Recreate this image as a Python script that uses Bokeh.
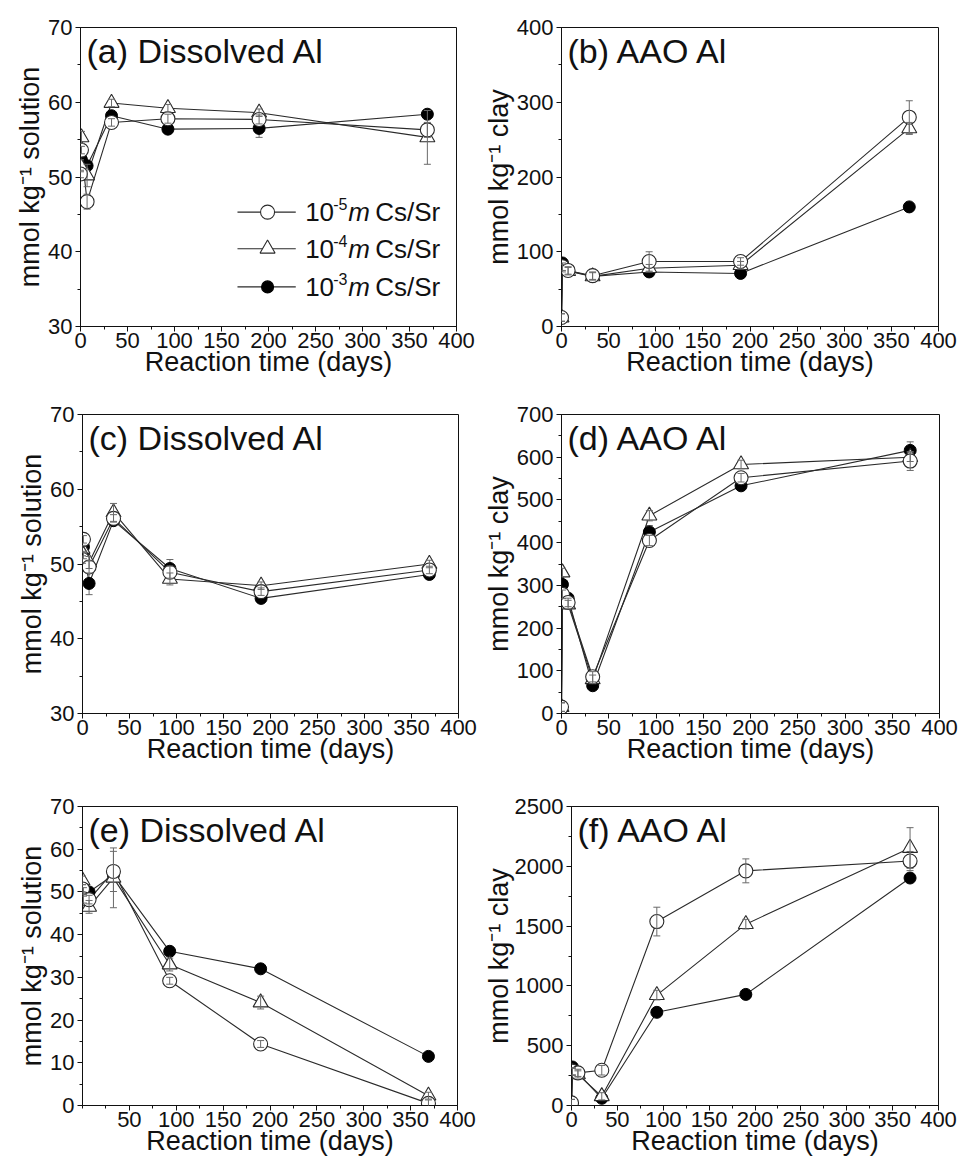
from bokeh.plotting import figure
from bokeh.layouts import column, row
from bokeh.models import FixedTicker, Label, Whisker, ColumnDataSource, Range1d, TeeHead
from bokeh.embed import file_html
from bokeh.resources import INLINE

# ---------------- data ----------------
days = [0, 1, 7, 33, 93, 190, 369]

# (a) dissolved Al
a_m5 = [50.4, 53.6, 46.7, 57.3, 57.8, 57.7, 56.3]
a_m4 = [51.5, 55.3, 50.2, 59.9, 59.2, 58.6, 55.3]
a_m3 = [52.5, 52.3, 51.5, 58.2, 56.4, 56.5, 58.4]
a_m5_err = [0.5, 0.5, 1.0, 0.5, 0.6, 0.6, 1.0]
a_m4_err = [0.8, 0.8, 1.5, 0.5, 0.5, 0.5, 3.6]
a_m3_err = [0.5, 0.5, 0.5, 0.5, 0.5, 1.2, 0.5]

# (b) AAO Al
b_m5 = [12, 80, 75, 68, 87, 87, 280]
b_m4 = [12, 78, 74, 67, 78, 82, 265]
b_m3 = [12, 85, 75, 67, 73, 71, 160]
b_m5_err = [5, 5, 5, 5, 13, 5, 22]
b_m4_err = [5, 5, 5, 5, 5, 5, 8]
b_m3_err = [3, 3, 3, 3, 3, 3, 3]

# (c) dissolved Al
c_m5 = [50.6, 53.3, 49.6, 56.1, 48.9, 46.3, 49.2]
c_m4 = [52.0, 51.2, 50.2, 56.9, 48.0, 47.1, 50.0]
c_m3 = [52.3, 52.3, 47.4, 55.8, 49.4, 45.4, 48.6]
c_m5_err = [0.5, 0.5, 0.8, 0.5, 0.8, 0.5, 0.5]
c_m4_err = [0.5, 0.5, 0.8, 1.2, 0.8, 0.5, 0.5]
c_m3_err = [0.5, 0.5, 1.5, 0.5, 1.2, 0.5, 0.5]

# (d) AAO Al
d_m5 = [15, 279, 260, 86, 405, 552, 591]
d_m4 = [15, 330, 255, 80, 463, 583, 600]
d_m3 = [15, 302, 270, 65, 425, 533, 616]
d_m5_err = [10, 10, 10, 12, 12, 10, 22]
d_m4_err = [10, 10, 10, 10, 12, 10, 10]
d_m3_err = [10, 10, 10, 10, 15, 10, 20]

# (e) dissolved Al
e_m5 = [50.7, 48.4, 48.2, 54.8, 29.2, 14.4, 0.5]
e_m4 = [52.7, 50.0, 46.5, 53.3, 33.0, 24.1, 2.3]
e_m3 = [50.0, 50.0, 50.0, 54.0, 36.1, 32.0, 11.5]
e_m5_err = [1.0, 1.0, 1.0, 4.7, 0.8, 0.8, 0.8]
e_m4_err = [1.0, 1.0, 1.5, 7.0, 1.5, 1.5, 0.8]
e_m3_err = [0.5, 0.5, 0.5, 0.5, 0.5, 0.5, 0.5]

# (f) AAO Al
f_m5 = [22, 287, 273, 295, 1538, 1962, 2044]
f_m4 = [20, 280, 260, 77, 923, 1516, 2153]
f_m3 = [20, 322, 270, 60, 779, 929, 1902]
f_m5_err = [30, 30, 30, 40, 120, 100, 80]
f_m4_err = [30, 30, 30, 30, 40, 40, 170]
f_m3_err = [20, 20, 20, 20, 20, 20, 20]

legend_exps = ["-5", "-4", "-3"]

FONT = "Liberation Sans"
INK = "#111111"
LINE = "#2a2a2a"
ERR = "#6a6a6a"


def style_axis(ax, label_standoff, tick_standoff):
    ax.axis_line_color = INK
    ax.axis_line_width = 1
    ax.major_tick_line_color = INK
    ax.minor_tick_line_color = INK
    ax.major_tick_in = 0
    ax.major_tick_out = 5
    ax.minor_tick_in = 0
    ax.minor_tick_out = 3
    ax.major_label_text_font = FONT
    ax.major_label_text_font_size = "22px"
    ax.major_label_text_color = INK
    ax.major_label_standoff = tick_standoff
    ax.axis_label_text_font = FONT
    ax.axis_label_text_font_size = "27px"
    ax.axis_label_text_font_style = "normal"
    ax.axis_label_text_color = INK
    ax.axis_label_standoff = label_standoff


def make_panel(title, ylabel, ylo, yhi, ystep, series, errs, width, height,
               bl, br, bt, bb, xticks, ylab_standoff=0):
    p = figure(width=width, height=height, output_backend="svg",
               toolbar_location=None, x_range=Range1d(0, 400),
               y_range=Range1d(ylo, yhi),
               min_border_left=bl, min_border_right=br,
               min_border_top=bt, min_border_bottom=bb)
    p.xgrid.visible = False
    p.ygrid.visible = False
    p.outline_line_color = INK
    p.outline_line_width = 1
    p.outline_line_alpha = 1
    p.background_fill_color = "white"
    p.border_fill_color = "white"

    p.xaxis.ticker = FixedTicker(ticks=xticks, minor_ticks=list(range(0, 401, 25)))
    yt = []
    v = ylo
    while v <= yhi + 1e-9:
        yt.append(v)
        v += ystep
    ym = []
    v = ylo
    while v <= yhi + 1e-9:
        ym.append(v)
        v += ystep / 2
    p.yaxis.ticker = FixedTicker(ticks=yt, minor_ticks=ym)
    p.xaxis.axis_label = "Reaction time (days)"
    p.yaxis.axis_label = ylabel
    style_axis(p.xaxis[0], label_standoff=-4, tick_standoff=1)
    style_axis(p.yaxis[0], label_standoff=ylab_standoff, tick_standoff=3)

    m5, m4, m3 = series
    e5, e4, e3 = errs

    def bars(vals, ee, level):
        src = ColumnDataSource(dict(base=days,
                                    upper=[y + e for y, e in zip(vals, ee)],
                                    lower=[y - e for y, e in zip(vals, ee)]))
        p.add_layout(Whisker(source=src, base="base", upper="upper", lower="lower",
                             level=level, line_color=ERR, line_width=1,
                             upper_head=TeeHead(size=7, line_color=ERR, line_width=1),
                             lower_head=TeeHead(size=7, line_color=ERR, line_width=1)))

    # lines first
    for vals in (m3, m4, m5):
        p.line(days, vals, line_color=LINE, line_width=1.1)
    bars(m3, e3, "underlay")
    # markers
    p.scatter(days, m3, marker="circle", size=12, fill_color="black",
              line_color="black", line_width=1)
    p.scatter(days, m4, marker="triangle", size=15, fill_color="white",
              line_color=LINE, line_width=1.1)
    p.scatter(days, m5, marker="circle", size=14, fill_color="white",
              line_color=LINE, line_width=1.1)
    bars(m4, e4, "overlay")
    bars(m5, e5, "overlay")

    p.add_layout(Label(x=0, y=yhi, x_offset=6, y_offset=-4, text=title,
                       text_font=FONT, text_font_size="34px", text_color=INK,
                       text_baseline="top", text_align="left"))
    return p


full_ticks = list(range(0, 401, 50))

pa = make_panel("(a) Dissolved Al", "mmol kg\u207b\u00b9 solution", 30, 70, 10,
                (a_m5, a_m4, a_m3), (a_m5_err, a_m4_err, a_m3_err),
                480, 390, 80, 24, 27, 64, full_ticks)
pb = make_panel("(b) AAO Al", "mmol kg\u207b\u00b9 clay", 0, 400, 100,
                (b_m5, b_m4, b_m3), (b_m5_err, b_m4_err, b_m3_err),
                480, 390, 80, 22, 23, 62, full_ticks)
pc = make_panel("(c) Dissolved Al", "mmol kg\u207b\u00b9 solution", 30, 70, 10,
                (c_m5, c_m4, c_m3), (c_m5_err, c_m4_err, c_m3_err),
                480, 390, 82, 22, 24, 67, full_ticks)
pd = make_panel("(d) AAO Al", "mmol kg\u207b\u00b9 clay", 0, 700, 100,
                (d_m5, d_m4, d_m3), (d_m5_err, d_m4_err, d_m3_err),
                480, 390, 80, 21, 22, 63, full_ticks)
pe = make_panel("(e) Dissolved Al", "mmol kg\u207b\u00b9 solution", 0, 70, 10,
                (e_m5, e_m4, e_m3), (e_m5_err, e_m4_err, e_m3_err),
                480, 390, 82, 23, 26, 65, list(range(50, 401, 50)))
pf = make_panel("(f) AAO Al", "mmol kg\u207b\u00b9 clay", 0, 2500, 500,
                (f_m5, f_m4, f_m3), (f_m5_err, f_m4_err, f_m3_err),
                480, 390, 90, 22, 26, 59, full_ticks, ylab_standoff=-2)

# ---------------- custom legend in panel (a) ----------------
leg_x0, leg_xm, leg_x1, leg_xt = 167, 199, 229, 239
leg_ys = [45.3, 40.4, 35.3]
leg_styles = [
    dict(marker="circle", size=14, fill_color="white", line_color=LINE),
    dict(marker="triangle", size=15, fill_color="white", line_color=LINE),
    dict(marker="circle", size=12, fill_color="black", line_color="black"),
]
for ly, exp, st in zip(leg_ys, legend_exps, leg_styles):
    pa.segment(x0=[leg_x0], y0=[ly], x1=[leg_x1], y1=[ly], line_color=LINE, line_width=1.1)
    pa.scatter([leg_xm], [ly], line_width=1.1, **st)
    pa.add_layout(Label(x=leg_xt, y=ly, text="10", text_font=FONT, text_font_size="26px",
                        text_color=INK, text_baseline="middle", text_align="left"))
    pa.add_layout(Label(x=leg_xt, y=ly, x_offset=28, y_offset=8, text=exp, text_font=FONT,
                        text_font_size="16px", text_color=INK, text_baseline="middle",
                        text_align="left"))
    pa.add_layout(Label(x=leg_xt, y=ly, x_offset=43, text="m", text_font=FONT,
                        text_font_size="26px", text_font_style="italic", text_color=INK,
                        text_baseline="middle", text_align="left"))
    pa.add_layout(Label(x=leg_xt, y=ly, x_offset=70, text="Cs/Sr", text_font=FONT,
                        text_font_size="26px", text_color=INK, text_baseline="middle",
                        text_align="left"))

layout = column(row(pa, pb), row(pc, pd), row(pe, pf))
open("out.html", "w").write(file_html(layout, INLINE))
